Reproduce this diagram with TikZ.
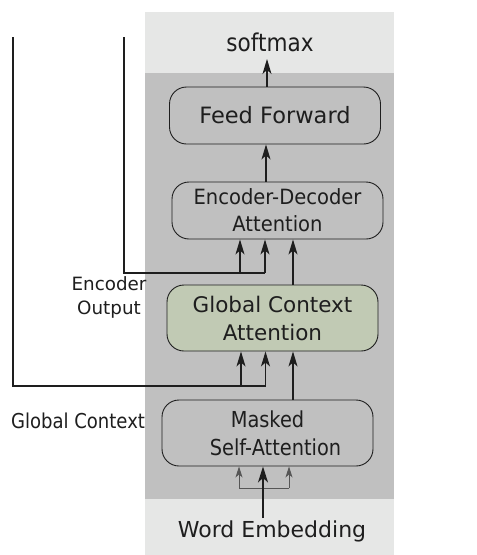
\documentclass[tikz,border=0pt]{standalone}
\usepackage{fontspec}
\setmainfont{DejaVu Sans}
\newfontfamily\narrowfont[FakeStretch=0.88]{DejaVu Sans}
\newfontfamily\semifont[FakeStretch=0.93]{DejaVu Sans}
\usetikzlibrary{arrows.meta,calc}
\definecolor{panellight}{HTML}{E6E7E6}
\definecolor{paneldark}{HTML}{C0C0C0}
\definecolor{gcafill}{HTML}{C1CAB4}
\definecolor{ink}{HTML}{1E1E1E}
\tikzset{
  block/.style={draw=ink, line width=0.9pt, rounded corners=17pt, align=center,
    text=ink, inner sep=0pt, minimum width=211pt},
  wire/.style={draw=ink, line width=1.1pt},
  arr/.style={wire, -{Stealth[length=15pt,width=9pt,inset=4pt]}},
  arrbig/.style={draw=ink, line width=1.6pt, -{Stealth[length=16pt,width=10pt,inset=4.5pt]}},
  arrthin/.style={draw=ink!75, line width=0.9pt, -{Stealth[length=11pt,width=7pt,inset=3pt]}},
  lbl/.style={text=ink, align=center, inner sep=0pt}
}
\begin{document}
\begin{tikzpicture}[x=1pt,y=-1pt]
\useasboundingbox (0,0) rectangle (477,555);
% decoder panel
\fill[panellight] (145,12) rectangle (394,555);
\fill[paneldark] (145,73) rectangle (394,499);

% blocks
\node[block, minimum height=57pt, font=\fontsize{22.5}{28}\selectfont] (FF) at (275,115.5) {Feed Forward};
\node[block, minimum height=57pt, font=\semifont\fontsize{21}{27}\selectfont] (ED) at (277.5,210.5) {Encoder-Decoder\\Attention};
\node[block, fill=gcafill, minimum height=66pt, font=\fontsize{21.5}{28}\selectfont] (GCA) at (272.5,318) {Global Context\\Attention};
\node[block, minimum height=66pt, font=\narrowfont\fontsize{22}{28}\selectfont] (MSA) at (267.5,433) {Masked\\\hspace*{16pt}Self-Attention};

% texts
\node[lbl, font=\narrowfont\fontsize{24.5}{28}\selectfont] (sm) at (270,42) {softmax};
\node[lbl, font=\fontsize{22}{26}\selectfont] (we) at (272,531) {Word Embedding};
\node[lbl, font=\narrowfont\fontsize{20.5}{24}\selectfont] (gc) at (78,421) {Global Context};
\node[lbl, font=\fontsize{18.3}{24}\selectfont] (eo) at (109,297) {Encoder\\Output};

% wire ends and junctions
\coordinate (encTop) at (124,37);
\coordinate (gcTop) at (13,37);
\coordinate (eA) at (240,273);
\coordinate (eB) at (265,273);
\coordinate (gA) at (241,386);
\coordinate (gB) at (265.5,386);
\coordinate (mA) at (239,488);
\coordinate (mB) at (263,488);
\coordinate (mC) at (289,488);
\coordinate (weTop) at (263,518);
\coordinate (colR) at (293,0);

% top of the stack
\draw[arr] (FF.north -| 267,0) -- (267,59);
\draw[arr] (ED.north -| 266,0) -- (FF.south -| 266,0);

% encoder output into encoder-decoder attention
\draw[wire] (encTop) |- (eB);
\draw[arr] (eA) -- (eA |- ED.south);
\draw[arr] (eB) -- (eB |- ED.south);
\draw[arr] (GCA.north -| colR) -- (ED.south -| colR);

% global context into global context attention
\draw[wire] (gcTop) |- (gB);
\draw[arr] (gA) -- (gA |- GCA.south);
\draw[arr] (gB) -- (gB |- GCA.south);
\draw[arr] (MSA.north -| colR) -- (GCA.south -| colR);

% word embedding into masked self-attention
\draw[wire, draw=ink!75, line width=0.9pt] (mA) -- (mC);
\draw[arrthin] (mA) -- (mA |- MSA.south);
\draw[arrthin] (mC) -- (mC |- MSA.south);
\draw[arrbig] (weTop) -- (weTop |- MSA.south);
\end{tikzpicture}
\end{document}
